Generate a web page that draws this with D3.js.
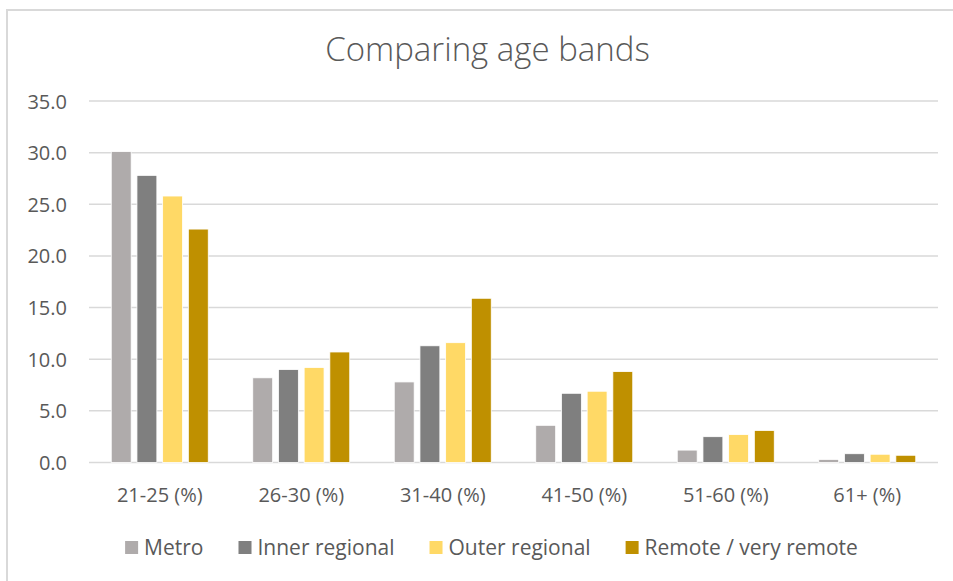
<!DOCTYPE html>
<html>
<head>
<meta charset="utf-8">
<script src="https://cdn.jsdelivr.net/npm/d3@7"></script>
<style>
  html, body { margin: 0; padding: 0; background: #fff; }
  svg { display: block; }
  text { font-family: "Open Sans", "Noto Sans", sans-serif; fill: #595959; }
</style>
</head>
<body>
<svg id="chart" width="953" height="581"></svg>
<script>
// Age band shares (%) by remoteness area
const categories = ["21-25 (%)", "26-30 (%)", "31-40 (%)", "41-50 (%)", "51-60 (%)", "61+ (%)"];
const seriesNames = ["Metro", "Inner regional", "Outer regional", "Remote / very remote"];
const metro = [30.1, 8.2, 7.8, 3.6, 1.2, 0.3];
const innerRegional = [27.8, 9.0, 11.3, 6.7, 2.5, 0.85];
const outerRegional = [25.8, 9.2, 11.6, 6.9, 2.7, 0.8];
const remote = [22.6, 10.7, 15.9, 8.8, 3.1, 0.7];
const yTicks = [0, 5, 10, 15, 20, 25, 30, 35];
const colors = ["#AFABAB", "#7F7F7F", "#FFD966", "#BF9000"];

const seriesValues = [metro, innerRegional, outerRegional, remote];

const svg = d3.select("#chart");

// chart frame (left and top edges visible)
svg.append("path")
  .attr("d", "M7,581 V10 H953")
  .attr("fill", "none")
  .attr("stroke", "#D9D9D9")
  .attr("stroke-width", 2);

const plot = { left: 89, right: 938, top: 101, bottom: 462.5 };

const y = d3.scaleLinear().domain([0, 35]).range([plot.bottom, plot.top]);
const x0 = d3.scaleBand().domain(categories).range([plot.left, plot.right]).paddingInner(0).paddingOuter(0);
const groupPad = 22.25;
const x1 = d3.scaleBand().domain(seriesNames)
  .range([groupPad, x0.bandwidth() - groupPad])
  .paddingInner(0.225).paddingOuter(0);

// gridlines
svg.append("g")
  .selectAll("line")
  .data(yTicks)
  .join("line")
  .attr("x1", plot.left).attr("x2", plot.right)
  .attr("y1", d => y(d)).attr("y2", d => y(d))
  .attr("stroke", "#D9D9D9")
  .attr("stroke-width", 1.5);

// y axis labels
const yAxis = d3.axisLeft(y).tickValues(yTicks).tickFormat(d3.format(".1f")).tickSize(0).tickPadding(0);
const yG = svg.append("g").attr("transform", `translate(67,0)`).call(yAxis);
yG.select(".domain").remove();
yG.selectAll("text").attr("font-size", 20).attr("fill", "#595959")
  .style("font-family", '"Open Sans", sans-serif').attr("dy", "0.35em");

// bars
const groups = svg.append("g")
  .selectAll("g")
  .data(categories)
  .join("g")
  .attr("transform", d => `translate(${x0(d)},0)`);

groups.selectAll("rect")
  .data((c, i) => seriesNames.map((s, k) => ({ s, v: seriesValues[k][i], k })))
  .join("rect")
  .attr("x", d => x1(d.s))
  .attr("width", x1.bandwidth())
  .attr("y", d => y(d.v))
  .attr("height", d => y(0) - y(d.v))
  .attr("fill", d => colors[d.k])
  .attr("stroke", "#fff")
  .attr("stroke-width", 0.8);

// x axis labels
const xAxis = d3.axisBottom(x0).tickSize(0).tickPadding(0);
const xG = svg.append("g").attr("transform", `translate(0,495)`).call(xAxis);
xG.select(".domain").remove();
xG.selectAll("text").attr("font-size", 20).attr("fill", "#595959")
  .style("font-family", '"Open Sans", sans-serif').attr("dy", "0.35em");

// title
svg.append("text")
  .attr("x", 487.5).attr("y", 61)
  .attr("text-anchor", "middle")
  .attr("font-size", 33)
  .attr("font-weight", 300)
  .text("Comparing age bands");

// legend
const legend = svg.append("g");
const items = legend.selectAll("g").data(seriesNames).join("g");
items.append("rect")
  .attr("width", 13).attr("height", 13)
  .attr("y", 541)
  .attr("fill", (d, i) => colors[i]);
items.append("text")
  .attr("x", 19).attr("y", 555)
  .attr("font-size", 21)
  .text(d => d);
let cursor = 0;
items.each(function () {
  const g = d3.select(this);
  g.attr("transform", `translate(${cursor},0)`);
  cursor += 19 + g.select("text").node().getComputedTextLength() + 35;
});
const legendWidth = cursor - 35;
legend.attr("transform", `translate(${491.5 - legendWidth / 2},0)`);
</script>
</body>
</html>
